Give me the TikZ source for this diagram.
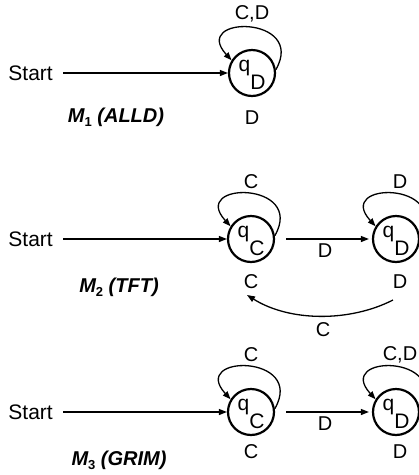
\documentclass[tikz,border=0pt]{standalone}
\usepackage{fontspec}
\setmainfont{Liberation Sans}
\usetikzlibrary{arrows.meta,calc}

% state name: a lowercase q with a lowered capital index
\newcommand\qsub[1]{\smash{\fontsize{21}{21}\selectfont\raisebox{2pt}{q}\raisebox{-16pt}{#1}}}
% machine name: bold italic M with index, then the strategy in brackets
\newcommand\mlabel[2]{M\raisebox{-4pt}{\fontsize{13}{13}\selectfont\upshape #1}\ (#2)}
% self loop over a state, entering it from the upper left
\newcommand\loopat[1]{\draw[edge] (#1.8) .. controls ($(#1)+(55,-58)$) and ($(#1)+(-62,-58)$) .. (#1.148);}

\tikzset{
  state/.style={circle, draw, line width=2.2pt, minimum size=46pt, inner sep=0pt},
  edge/.style={line width=1.3pt, -{Triangle[length=8pt,width=6pt]}},
  lbl/.style={inner sep=0pt, font=\fontsize{20}{20}\selectfont},
  starttext/.style={inner sep=0pt, anchor=east, font=\fontsize{21}{21}\selectfont},
  mname/.style={inner sep=0pt, font=\fontsize{20}{20}\selectfont\bfseries\itshape},
}

\begin{document}
\begin{tikzpicture}[x=1pt,y=-1pt]
\useasboundingbox (0,0) rectangle (419,475);

% M1: always defect
\node[starttext] (s1) at (53,73) {Start};
\node[state] (q1) at (252,73) {\qsub{D}};
\node[lbl] (l1) at (252,14) {C,D};
\node[lbl] (o1) at (252,118) {D};
\node[mname] (m1) at (116,117) {\mlabel{1}{ALLD}};
\draw[edge, shorten <=10pt] (s1.east) -- (q1.west);
\loopat{q1}

% M2: tit for tat
\node[starttext] (s2) at (53,239) {Start};
\node[state] (c2) at (251,239) {\qsub{C}};
\node[state] (d2) at (396,239) {\qsub{D}};
\node[lbl] (lc2) at (251,182) {C};
\node[lbl] (ld2) at (400,182) {D};
\node[lbl] (oc2) at (251,282) {C};
\node[lbl] (od2) at (400,282) {D};
\node[lbl] (t2) at (325,251) {D};
\node[mname] (m2) at (119,287) {\mlabel{2}{TFT}};
\draw[edge, shorten <=10pt] (s2.east) -- (c2.west);
\draw[edge, shorten <=11pt, shorten >=3pt] (c2) -- (d2);
\loopat{c2}
\loopat{d2}
\coordinate (r2) at (393,300);
\coordinate (l2) at (247,295);
\draw[edge] (r2) .. controls (350,322) and (290,322) .. (l2);
\node[lbl] (b2) at (323,330) {C};

% M3: grim trigger
\node[starttext] (s3) at (53,412) {Start};
\node[state] (c3) at (251,412) {\qsub{C}};
\node[state] (d3) at (396,412) {\qsub{D}};
\node[lbl] (lc3) at (251,355) {C};
\node[lbl] (ld3) at (400,355) {C,D};
\node[lbl] (oc3) at (251,452) {C};
\node[lbl] (od3) at (400,452) {D};
\node[lbl] (t3) at (325,424) {D};
\node[mname] (m3) at (119,460) {\mlabel{3}{GRIM}};
\draw[edge, shorten <=10pt] (s3.east) -- (c3.west);
\draw[edge, shorten <=11pt, shorten >=3pt] (c3) -- (d3);
\loopat{c3}
\loopat{d3}
\end{tikzpicture}
\end{document}
